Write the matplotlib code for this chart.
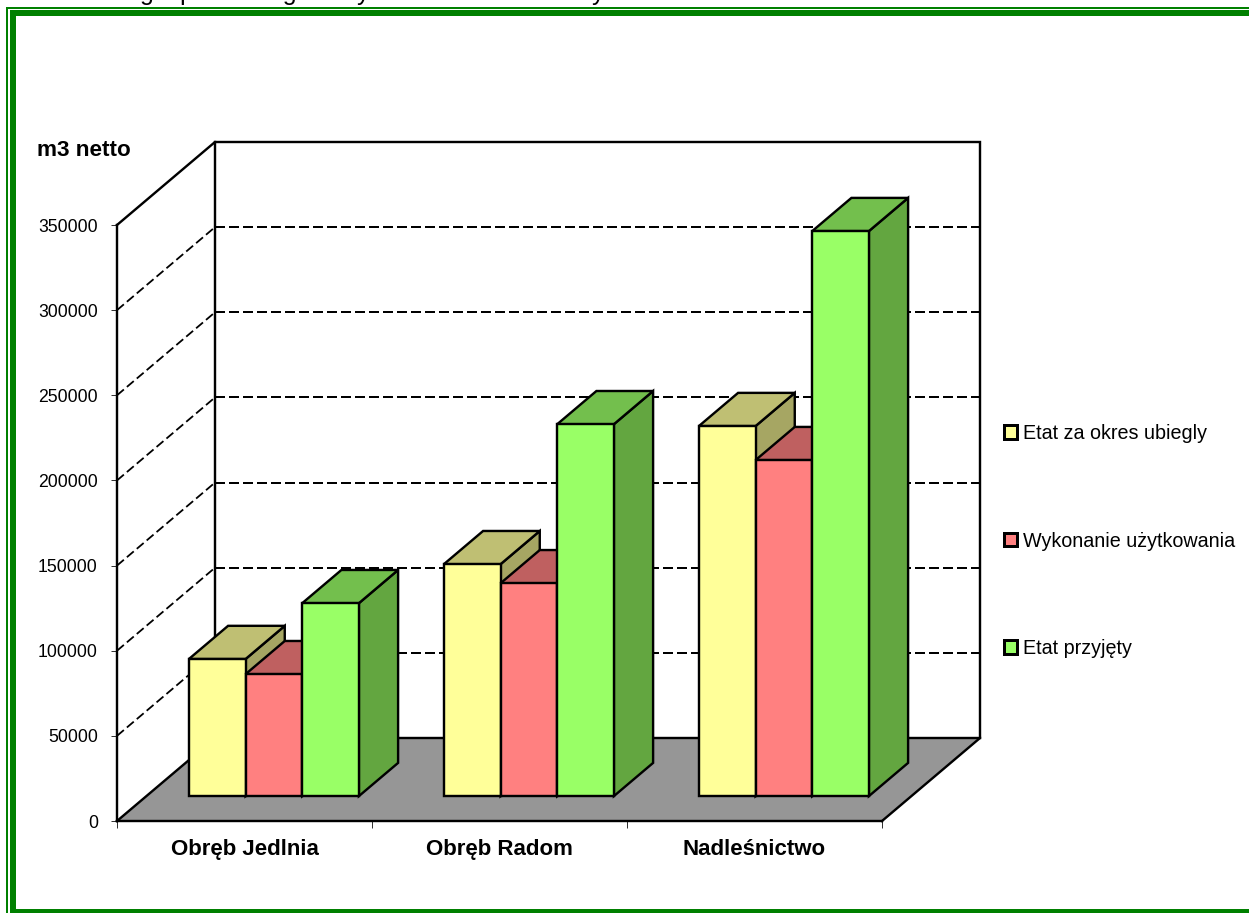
import matplotlib
matplotlib.use("Agg")
import matplotlib.pyplot as plt
from matplotlib.patches import Polygon, Patch, Rectangle

plt.rcParams['font.family'] = ['Liberation Sans', 'DejaVu Sans']

categories = ['Obręb Jedlnia', 'Obręb Radom', 'Nadleśnictwo']
series_names = ['Etat za okres ubiegly', 'Wykonanie użytkowania', 'Etat przyjęty']
etat_ubiegly = [80500, 136200, 217300]
wykonanie = [71600, 125000, 197300]
etat_przyjety = [113300, 218400, 331800]
y_ticks = [0, 50000, 100000, 150000, 200000, 250000, 300000, 350000]

W, H = 1249, 913
fig = plt.figure(figsize=(W / 100, H / 100), dpi=100, facecolor='white')
PX = 0.72  # points per pixel
ax = fig.add_axes([117 / W, (H - 821) / H, 765 / W, 596 / H])
ax.set_xlim(0, 3)
ax.set_ylim(0, 350000)
ax.patch.set_visible(False)

# depth of the 3-D box, expressed in data units
DX = 98 / 255
DY = 83 * 350000 / 596
def proj(x, y, d):
    return (x + d * DX, y + d * DY)

LW = 2.4 * PX
ymax = y_ticks[-1]
# floor
ax.add_patch(Polygon([proj(0, 0, 0), proj(3, 0, 0), proj(3, 0, 1), proj(0, 0, 1)],
                     closed=True, fc='#969696', ec='none', zorder=1, clip_on=False))
# gridlines
dash = (0, (5, 2))
for v in y_ticks[1:-1]:
    xs, ys = zip(proj(0, v, 0), proj(0, v, 1))
    ax.plot(xs, ys, color='black', lw=1.8 * PX, ls=(0, (5, 2.2)), zorder=2, clip_on=False)
    xs, ys = zip(proj(0, v, 1), proj(3, v, 1))
    ax.plot(xs, ys, color='black', lw=2 * PX, ls=dash, zorder=2, clip_on=False)
# box outline
for pts in ([proj(0, ymax, 0), proj(0, ymax, 1), proj(3, ymax, 1), proj(3, 0, 1), proj(3, 0, 0)],
            [proj(0, 0, 0), proj(0, 0, 1), proj(0, ymax, 1)],
            [proj(0, 0, 1), proj(3, 0, 1)]):
    xs, ys = zip(*pts)
    ax.plot(xs, ys, color='black', lw=LW, zorder=3, clip_on=False, solid_joinstyle='miter')

# bars
D0, D1 = 0.30, 0.70
BW = (1 - 1 / 3) / 3
START = 1 / 6
face = ['#FFFF99', '#FF8080', '#99FF66']
top = ['#BFBF73', '#BF6060', '#73BF4D']
side = ['#A6A663', '#A65353', '#63A640']
base_x, base_y = proj(0, 0, D0)
z = 5
for c in range(len(categories)):
    for s, vals in enumerate([etat_ubiegly, wykonanie, etat_przyjety]):
        x0 = c + START + s * BW
        x1 = x0 + BW
        v = vals[c]
        ax.add_patch(Polygon([proj(x1, 0, D0), proj(x1, 0, D1), proj(x1, v, D1), proj(x1, v, D0)],
                             closed=True, fc=side[s], ec='black', lw=LW, zorder=z, clip_on=False))
        ax.add_patch(Polygon([proj(x0, v, D0), proj(x1, v, D0), proj(x1, v, D1), proj(x0, v, D1)],
                             closed=True, fc=top[s], ec='black', lw=LW, zorder=z, clip_on=False))
        ax.bar(x0 + base_x, v, BW, bottom=base_y, align='edge', color=face[s],
               edgecolor='black', lw=LW, zorder=z + 0.5, clip_on=False)
        z += 1

# axes furniture
for sp in ('top', 'right'):
    ax.spines[sp].set_visible(False)
for sp in ('left', 'bottom'):
    ax.spines[sp].set_linewidth(LW)
    ax.spines[sp].set_zorder(4)
ax.set_yticks(y_ticks)
ax.set_yticklabels([str(v) for v in y_ticks], fontsize=12.7)
ax.tick_params(axis='y', length=6 * PX, width=1 * PX, color='#333333', pad=9.5)
ax.set_xticks(range(4))
ax.set_xticklabels([''] * 4)
ax.tick_params(axis='x', length=7 * PX, width=1 * PX, color='#333333')
ax.set_xticks([i + 0.5 for i in range(3)], minor=True)
ax.set_xticklabels(categories, minor=True, fontsize=16, fontweight='bold')
ax.tick_params(axis='x', which='minor', length=0, pad=13)

fig.text(37 / W, 1 - 150 / H, 'm3 netto', fontsize=16.2, fontweight='bold', va='center', ha='left')

handles = [Patch(fc=f, ec='black', lw=3 * PX, label=n) for f, n in zip(face, series_names)]
ax.legend(handles=handles, loc='center left', bbox_to_anchor=(1004 / W, 1 - 541 / H),
          bbox_transform=fig.transFigure, frameon=False, fontsize=14.2,
          handlelength=0.66, handleheight=0.66, handletextpad=0.3,
          labelspacing=4.49, borderpad=0, borderaxespad=0)

# page frame and the cut-off line of page text above it
green = '#008000'
def frame(x, y, w, h):
    fig.add_artist(Rectangle((x / W, 1 - (y + h) / H), w / W, h / H, transform=fig.transFigure,
                             fc=green, ec='none', zorder=20))
frame(6, 7, W - 6, 2)
frame(6, 7, 2, H - 7)
frame(10, 10, W - 10, 6)
frame(10, 10, 6, H - 10)
frame(10, 909, W - 10, 4)

for x, s in [(140, 'gospodarczego'), (357, 'y'), (592, 'y')]:
    fig.text(x / W, 1 + 0.5 / H, s, fontsize=18, va='baseline', ha='left', zorder=10, color='black')

fig.savefig('out.png', dpi=100)
